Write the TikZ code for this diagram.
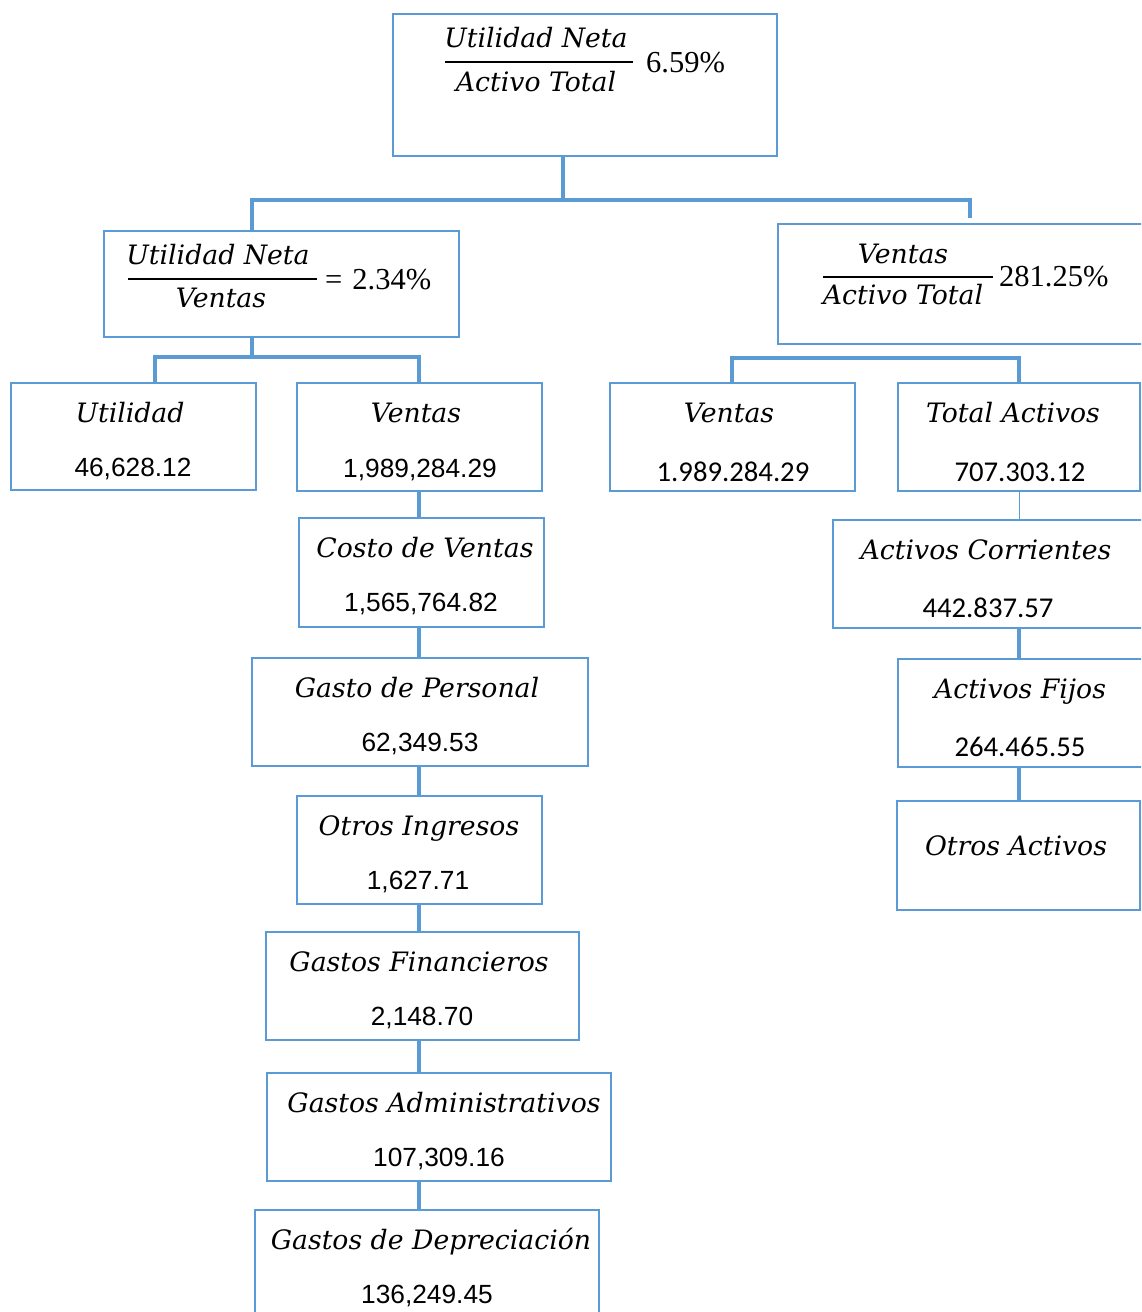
\documentclass[tikz,border=0pt]{standalone}
\usepackage{fontspec}
\newfontfamily\cambfont{DejaVu Serif}
\newfontfamily\arialfont{Liberation Sans}
\newfontfamily\calfont{Carlito}
\newfontfamily\timesfont{Liberation Serif}
\definecolor{wblue}{HTML}{5B9BD5}
\tikzset{
 rbox/.style={draw=wblue, line width=2.5pt, inner sep=0pt, outer sep=0pt},
 conn/.style={draw=wblue, line width=4pt},
 thinconn/.style={draw=wblue, line width=1pt},
 lbl/.style={anchor=base, inner sep=0pt, font=\cambfont\itshape\fontsize{26.7}{30}\selectfont},
 numA/.style={anchor=base, inner sep=0pt, font=\arialfont\fontsize{26.3}{30}\selectfont},
 numC/.style={anchor=base, inner sep=0pt, font=\calfont\fontsize{28.7}{32}\selectfont},
 numT/.style={anchor=base west, inner sep=0pt, font=\timesfont\fontsize{30.5}{34}\selectfont},
 fbar/.style={fill=black, draw=none, inner sep=0pt, outer sep=0pt, minimum height=2pt},
}
\begin{document}
\begin{tikzpicture}[x=1pt,y=-1pt]
\useasboundingbox (0,0) rectangle (1141,1312);
\clip (0,0) rectangle (1141,1312);
% boxes
\node[rbox, minimum width=384pt, minimum height=142pt] (top) at (585,85) {};
\node[rbox, minimum width=355pt, minimum height=106pt] (lm) at (281.5,284) {};
\node[rbox, minimum width=383pt, minimum height=120pt] (rm) at (969.5,284) {};
\node[rbox, minimum width=245pt, minimum height=107pt] (ut) at (133.5,436.5) {};
\node[rbox, minimum width=245pt, minimum height=108pt] (vl) at (419.5,437) {};
\node[rbox, minimum width=245pt, minimum height=108pt] (vr) at (732.5,437) {};
\node[rbox, minimum width=242pt, minimum height=108pt] (ta) at (1019,437) {};
\node[rbox, minimum width=245pt, minimum height=109pt] (cv) at (421.5,572.5) {};
\node[rbox, minimum width=336pt, minimum height=108pt] (gp) at (420,712) {};
\node[rbox, minimum width=245pt, minimum height=108pt] (oi) at (419.5,850) {};
\node[rbox, minimum width=313pt, minimum height=108pt] (gf) at (422.5,986) {};
\node[rbox, minimum width=344pt, minimum height=108pt] (ga) at (439,1127) {};
\node[rbox, minimum width=344pt, minimum height=112pt] (gd) at (427,1266) {};
\node[rbox, minimum width=310pt, minimum height=108pt] (ac) at (988,574) {};
\node[rbox, minimum width=245pt, minimum height=108pt] (af) at (1020.5,713) {};
\node[rbox, minimum width=243pt, minimum height=109pt] (oa) at (1018.5,855.5) {};
% connectors
\coordinate (j0) at (563,200);
\coordinate (jl) at (252,200);
\coordinate (jr) at (970,218);
\draw[conn] (j0 |- top.south) -- (j0);
\draw[conn] (jl |- lm.north) -- (jl) -| (jr);
\coordinate (k0) at (252,357);
\coordinate (kl) at (155,357);
\coordinate (kr) at (419,357);
\draw[conn] (k0 |- lm.south) -- (k0);
\draw[conn] (kl |- ut.north) -- (kl) -- (kr) -- (kr |- vl.north);
\coordinate (ml) at (732,358);
\coordinate (mr) at (1019,358);
\draw[conn] (ml |- vr.north) -- (ml) -- (mr) -- (mr |- ta.north);
\coordinate (cx) at (419,0);
\draw[conn] (cx |- vl.south) -- (cx |- cv.north);
\draw[conn] (cx |- cv.south) -- (cx |- gp.north);
\draw[conn] (cx |- gp.south) -- (cx |- oi.north);
\draw[conn] (cx |- oi.south) -- (cx |- gf.north);
\draw[conn] (cx |- gf.south) -- (cx |- ga.north);
\draw[conn] (cx |- ga.south) -- (cx |- gd.north);
\coordinate (rx) at (1019,0);
\draw[thinconn] (rx |- ta.south) -- (rx |- ac.north);
\draw[conn] (rx |- ac.south) -- (rx |- af.north);
\draw[conn] (rx |- af.south) -- (rx |- oa.north);
% fractions
\node[lbl] (tnum) at (536,47) {Utilidad Neta};
\node[fbar, minimum width=188pt] (tbar) at (539,62) {};
\node[lbl] (tden) at (536,91) {Activo Total};
\node[numT] (tval) at (646,72) {6.59\%};
\node[lbl] (lnum) at (218,264) {Utilidad Neta};
\node[fbar, minimum width=189pt] (lbar) at (222.5,279) {};
\node[lbl] (lden) at (221,307) {Ventas};
\node[numT] (lval) at (325,289) {=\hspace{10pt}2.34\%};
\node[lbl] (rnum) at (903,263) {Ventas};
\node[fbar, minimum width=170pt] (rbar) at (908,277) {};
\node[lbl] (rden) at (903,304) {Activo Total};
\node[numT] (rval) at (999,286) {281.25\%};
% labels
\node[lbl] (utl) at (130,422) {Utilidad};
\node[numA] (utn) at (133,476) {46,628.12};
\node[lbl] (vll) at (416,422) {Ventas};
\node[numA] (vln) at (420,477) {1,989,284.29};
\node[lbl] (vrl) at (729,422) {Ventas};
\node[numC] (vrn) at (733,481) {1.989.284.29};
\node[lbl] (tal) at (1013,422) {Total Activos};
\node[numC] (tan) at (1020,481) {707.303.12};
\node[lbl] (cvl) at (425,557) {Costo de Ventas};
\node[numA] (cvn) at (421,611) {1,565,764.82};
\node[lbl] (gpl) at (417,697) {Gasto de Personal};
\node[numA] (gpn) at (420,751) {62,349.53};
\node[lbl] (oil) at (419,835) {Otros Ingresos};
\node[numA] (oin) at (418,889) {1,627.71};
\node[lbl] (gfl) at (419,971) {Gastos Financieros};
\node[numA] (gfn) at (422,1025) {2,148.70};
\node[lbl] (gal) at (444,1112) {Gastos Administrativos};
\node[numA] (gan) at (439,1166) {107,309.16};
\node[lbl] (gdl) at (431,1249) {Gastos de Depreciación};
\node[numA] (gdn) at (427,1303) {136,249.45};
\node[lbl] (acl) at (986,559) {Activos Corrientes};
\node[numC] (acn) at (988,617) {442.837.57};
\node[lbl] (afl) at (1020,698) {Activos Fijos};
\node[numC] (afn) at (1020,756) {264.465.55};
\node[lbl] (oal) at (1016,855) {Otros Activos};
\end{tikzpicture}
\end{document}
